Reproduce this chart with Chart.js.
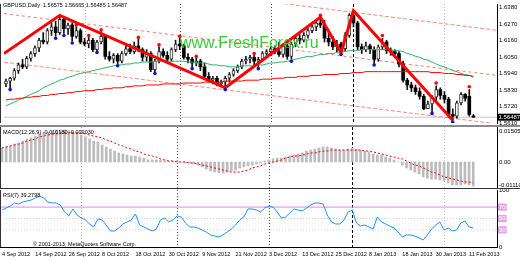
<!DOCTYPE html>
<html><head><meta charset="utf-8">
<script src="https://cdn.jsdelivr.net/npm/chart.js@4/dist/chart.umd.min.js"></script>
<style>
html,body{margin:0;padding:0;background:#fff;width:520px;height:260px;overflow:hidden}
canvas{position:absolute;left:0}
</style></head><body>
<canvas id="main" width="520" height="127" style="top:0px"></canvas>
<canvas id="macd" width="520" height="62" style="top:127px"></canvas>
<canvas id="rsi" width="520" height="71" style="top:189px"></canvas>
<script>
// ---------- data ----------
const opens = [
1.5871,1.5890,1.5909,1.5960,1.5998,1.5985,1.6042,1.6074,1.6112,1.6163,
1.6151,1.6227,1.6252,1.6214,1.6303,1.6240,1.6265,1.6189,1.6227,1.6151,
1.6138,1.6163,1.6100,1.6151,1.6189,1.6055,1.6036,1.6062,1.6023,1.6074,
1.6106,1.6087,1.6125,1.6100,1.6049,1.6074,1.5966,1.6023,1.6087,1.6062,
1.6036,1.6100,1.6138,1.6125,1.6049,1.6036,1.6011,1.6023,1.5985,1.5922,
1.5896,1.5909,1.5871,1.5883,1.5909,1.5934,1.5960,1.5985,1.6023,1.6036,
1.6049,1.6023,1.6036,1.6074,1.6087,1.6106,1.6087,1.6068,1.6125,1.6055,
1.6138,1.6176,1.6163,1.6195,1.6227,1.6252,1.6278,1.6265,1.6176,1.6151,
1.6119,1.6138,1.6106,1.6195,1.6329,1.6278,1.6119,1.6100,1.6125,1.6100,
1.6036,1.6119,1.6151,1.6093,1.6087,1.6074,1.6004,1.5896,1.5864,1.5845,
1.5820,1.5788,1.5705,1.5737,1.5782,1.5833,1.5794,1.5769,1.5667,1.5655,
1.5744,1.5801,1.5788,1.56575];
const highs = [
1.5903,1.5915,1.5973,1.6011,1.6036,1.6055,1.6087,1.6125,1.6176,1.6214,
1.6240,1.6278,1.6290,1.6329,1.6316,1.6278,1.6278,1.6252,1.6240,1.6176,
1.6182,1.6176,1.6163,1.6221,1.6201,1.6087,1.6074,1.6074,1.6087,1.6125,
1.6138,1.6151,1.6170,1.6112,1.6100,1.6087,1.6036,1.6119,1.6106,1.6087,
1.6112,1.6163,1.6176,1.6138,1.6074,1.6049,1.6042,1.6036,1.6011,1.5947,
1.5922,1.5922,1.5896,1.5922,1.5947,1.5973,1.5998,1.6036,1.6055,1.6062,
1.6062,1.6049,1.6087,1.6100,1.6119,1.6125,1.6151,1.6138,1.6138,1.6151,
1.6189,1.6201,1.6214,1.6240,1.6265,1.6290,1.6316,1.6297,1.6214,1.6189,
1.6163,1.6151,1.6214,1.6341,1.6360,1.6290,1.6138,1.6151,1.6138,1.6119,
1.6132,1.6176,1.6163,1.6112,1.6100,1.6087,1.6023,1.5909,1.5883,1.5864,
1.5845,1.5801,1.5756,1.5794,1.5858,1.5845,1.5820,1.5782,1.5705,1.5756,
1.5813,1.5807,1.5833,1.56665];
const lows = [
1.5852,1.5839,1.5896,1.5941,1.5973,1.5973,1.6023,1.6055,1.6087,1.6138,
1.6138,1.6195,1.6189,1.6201,1.6208,1.6201,1.6157,1.6176,1.6138,1.6125,
1.6112,1.6087,1.6087,1.6138,1.6036,1.6023,1.6011,1.6004,1.6011,1.6062,
1.6074,1.6074,1.6087,1.6023,1.6023,1.5953,1.5947,1.6011,1.6049,1.6011,
1.6023,1.6087,1.6100,1.6036,1.6011,1.5985,1.5992,1.5960,1.5909,1.5883,
1.5871,1.5858,1.5858,1.5845,1.5883,1.5922,1.5947,1.5973,1.6004,1.6011,
1.5998,1.5985,1.6023,1.6049,1.6062,1.6074,1.6055,1.6049,1.6036,1.6036,
1.6119,1.6138,1.6151,1.6176,1.6214,1.6227,1.6246,1.6151,1.6125,1.6100,
1.6087,1.6081,1.6093,1.6182,1.6252,1.6100,1.6074,1.6087,1.6074,1.6011,
1.6023,1.6100,1.6074,1.6062,1.6049,1.5985,1.5883,1.5833,1.5820,1.5801,
1.5769,1.5699,1.5705,1.5686,1.5756,1.5769,1.5744,1.5648,1.5629,1.5642,
1.5731,1.5756,1.5655,1.56485];
const closes = [
1.5890,1.5909,1.5960,1.5998,1.5985,1.6042,1.6074,1.6112,1.6163,1.6151,
1.6227,1.6252,1.6214,1.6303,1.6240,1.6265,1.6189,1.6227,1.6151,1.6138,
1.6163,1.6100,1.6151,1.6189,1.6055,1.6036,1.6062,1.6023,1.6074,1.6106,
1.6087,1.6125,1.6100,1.6049,1.6074,1.5966,1.6023,1.6087,1.6062,1.6036,
1.6100,1.6138,1.6125,1.6049,1.6036,1.6011,1.6023,1.5985,1.5922,1.5896,
1.5909,1.5871,1.5883,1.5909,1.5934,1.5960,1.5985,1.6023,1.6036,1.6049,
1.6023,1.6036,1.6074,1.6087,1.6106,1.6087,1.6068,1.6125,1.6055,1.6138,
1.6176,1.6163,1.6195,1.6227,1.6252,1.6278,1.6265,1.6176,1.6151,1.6119,
1.6138,1.6106,1.6195,1.6329,1.6278,1.6119,1.6100,1.6125,1.6100,1.6036,
1.6119,1.6151,1.6093,1.6087,1.6074,1.6004,1.5896,1.5864,1.5845,1.5820,
1.5788,1.5705,1.5737,1.5782,1.5833,1.5794,1.5769,1.5667,1.5655,1.5744,
1.5801,1.5775,1.5667,1.56487];
const greenMA = [
1.5725,1.5737,1.5750,1.5763,1.5775,1.5788,1.5801,1.5813,1.5826,1.5845,
1.5858,1.5871,1.5883,1.5896,1.5903,1.5915,1.5922,1.5934,1.5941,1.5947,
1.5953,1.5960,1.5966,1.5973,1.5979,1.5985,1.5992,1.5998,1.5998,1.6004,
1.6004,1.6011,1.6011,1.6017,1.6017,1.6017,1.6023,1.6023,1.6023,1.6023,
1.6023,1.6023,1.6023,1.6023,1.6017,1.6017,1.6011,1.6011,1.6011,1.6004,
1.5998,1.5998,1.5992,1.5992,1.5985,1.5985,1.5985,1.5992,1.5992,1.5992,
1.5992,1.5998,1.5998,1.6004,1.6011,1.6011,1.6017,1.6017,1.6023,1.6030,
1.6036,1.6042,1.6049,1.6055,1.6055,1.6062,1.6068,1.6068,1.6074,1.6074,
1.6081,1.6087,1.6087,1.6093,1.6093,1.6093,1.6100,1.6100,1.6100,1.6100,
1.6100,1.6100,1.6100,1.6100,1.6093,1.6093,1.6087,1.6074,1.6068,1.6055,
1.6049,1.6036,1.6030,1.6017,1.6004,1.5992,1.5985,1.5973,1.5960,1.5953,
1.5941,1.5934,1.5928,1.5915];
const redMA = [
1.5763,1.5769,1.5769,1.5775,1.5775,1.5782,1.5782,1.5788,1.5788,1.5794,
1.5794,1.5801,1.5801,1.5807,1.5807,1.5813,1.5813,1.5820,1.5820,1.5826,
1.5826,1.5826,1.5833,1.5833,1.5839,1.5839,1.5845,1.5845,1.5845,1.5852,
1.5852,1.5858,1.5858,1.5858,1.5864,1.5864,1.5864,1.5864,1.5871,1.5871,
1.5871,1.5871,1.5871,1.5877,1.5877,1.5877,1.5877,1.5877,1.5883,1.5883,
1.5883,1.5883,1.5883,1.5890,1.5890,1.5890,1.5890,1.5890,1.5896,1.5896,
1.5896,1.5896,1.5903,1.5903,1.5903,1.5909,1.5909,1.5909,1.5915,1.5915,
1.5915,1.5922,1.5922,1.5922,1.5928,1.5928,1.5928,1.5934,1.5934,1.5934,
1.5934,1.5941,1.5941,1.5941,1.5947,1.5947,1.5947,1.5953,1.5953,1.5953,
1.5953,1.5953,1.5953,1.5953,1.5953,1.5953,1.5953,1.5953,1.5953,1.5953,
1.5953,1.5953,1.5953,1.5947,1.5947,1.5947,1.5941,1.5941,1.5941,1.5934,
1.5934,1.5928,1.5928,1.5922];
const zigzagBars   = [-0.5, 13, 53, 76, 81, 84, 108];
const zigzagPrices = [1.6074, 1.6329, 1.5845, 1.6316, 1.6081, 1.6360, 1.5629];
const upFractalBars   = [17,20,23,32,37,42,46,60,76,91,104,112];
const upFractalPrices = [1.6265,1.6195,1.6233,1.6182,1.6132,1.6189,1.6055,1.6074,1.6329,1.6195,1.5877,1.5852];
const dnFractalBars   = [1,12,14,16,22,27,36,45,53,61,69,81,89,103,108];
const dnFractalPrices = [1.5833,1.6176,1.6195,1.6144,1.6081,1.5992,1.5941,1.5973,1.5833,1.5973,1.6023,1.6068,1.5998,1.5674,1.5616];
const channelBars  = [-0.48, 118.7];
const channelUpper = [1.6642, 1.6229];
const channelMid   = [1.6341, 1.5928];
const channelLower = [1.6017, 1.5604];
const macdHist = [
0.0068,0.0073,0.0078,0.0087,0.0092,0.0102,0.0112,0.0117,0.0126,0.0136,
0.0141,0.0146,0.0151,0.0156,0.0156,0.0156,0.0151,0.0146,0.0141,0.0131,
0.0122,0.0112,0.0102,0.0097,0.0083,0.0073,0.0063,0.0053,0.0044,0.0039,
0.0034,0.0029,0.0029,0.0024,0.0019,0.0010,0.0010,0.0010,0.0010,0.0005,
0.0005,0.0005,0.0005,0.0000,-0.0005,-0.0005,-0.0010,-0.0015,-0.0024,-0.0034,
-0.0044,-0.0049,-0.0053,-0.0053,-0.0049,-0.0044,-0.0039,-0.0029,-0.0024,-0.0019,
-0.0015,-0.0010,-0.0005,0.0005,0.0010,0.0015,0.0019,0.0019,0.0024,0.0029,
0.0034,0.0039,0.0044,0.0053,0.0058,0.0063,0.0068,0.0073,0.0073,0.0068,
0.0063,0.0058,0.0058,0.0063,0.0068,0.0063,0.0058,0.0053,0.0049,0.0039,
0.0034,0.0034,0.0024,0.0019,0.0010,0.0000,-0.0015,-0.0029,-0.0039,-0.0049,
-0.0058,-0.0073,-0.0078,-0.0083,-0.0083,-0.0087,-0.0092,-0.0102,-0.0112,-0.0112,
-0.0112,-0.0107,-0.0112,-0.0117];
const macdSignal = [
0.0068,0.0073,0.0078,0.0083,0.0087,0.0092,0.0102,0.0107,0.0112,0.0122,
0.0126,0.0131,0.0136,0.0136,0.0141,0.0141,0.0141,0.0141,0.0141,0.0141,
0.0136,0.0131,0.0126,0.0122,0.0117,0.0107,0.0102,0.0092,0.0083,0.0078,
0.0068,0.0063,0.0053,0.0049,0.0039,0.0034,0.0029,0.0024,0.0015,0.0010,
0.0005,0.0005,0.0000,0.0000,0.0000,-0.0005,-0.0005,-0.0010,-0.0015,-0.0019,
-0.0024,-0.0029,-0.0034,-0.0039,-0.0044,-0.0049,-0.0049,-0.0049,-0.0044,-0.0039,
-0.0029,-0.0024,-0.0019,-0.0010,-0.0005,0.0000,0.0005,0.0010,0.0019,0.0024,
0.0029,0.0029,0.0034,0.0039,0.0044,0.0044,0.0049,0.0053,0.0053,0.0058,
0.0058,0.0058,0.0058,0.0058,0.0058,0.0058,0.0058,0.0053,0.0053,0.0049,
0.0044,0.0039,0.0034,0.0029,0.0024,0.0019,0.0015,0.0005,-0.0005,-0.0015,
-0.0019,-0.0029,-0.0039,-0.0049,-0.0053,-0.0063,-0.0073,-0.0078,-0.0083,-0.0087,
-0.0092,-0.0097,-0.0097,-0.0102];
const rsi = [
64.9,68.4,71.9,77.2,75.4,78.9,80.7,82.5,86.0,89.5,
86.0,78.9,77.2,77.2,73.7,61.4,54.4,66.7,56.1,50.9,
47.4,40.4,35.1,49.1,47.4,38.6,28.1,28.1,33.3,40.4,
43.9,47.4,57.9,38.6,35.1,31.6,28.1,31.6,47.4,50.9,
43.9,47.4,54.4,52.6,42.1,35.1,35.1,33.3,29.8,26.3,
21.1,19.3,17.5,21.1,26.3,31.6,38.6,47.4,52.6,66.7,
66.7,64.9,61.4,68.4,71.9,70.2,61.4,50.9,52.6,59.6,
66.7,64.9,63.2,68.4,73.7,77.2,77.2,75.4,56.1,43.9,
40.4,40.4,47.4,61.4,64.9,42.1,36.8,38.6,35.1,31.6,
52.6,43.9,40.4,36.8,33.3,26.3,17.5,21.1,21.1,19.3,
15.8,12.3,21.1,31.6,38.6,43.9,29.8,33.3,28.1,29.8,
42.1,45.6,35.1,33.3];
const rsiLevels = [70, 50, 30];
const priceTicks = [1.6380,1.6270,1.6160,1.6050,1.5940,1.5830,1.5720,1.5610];
const macdTicks = [0.015053, 0, -0.011102];
const rsiTicks = [100, 70, 50, 30, 0];
const dateBars = [0,8,16,24,32,40,48,56,64,72,80,88,96,104,112];
const dateLabels = ["4 Sep 2012","14 Sep 2012","26 Sep 2012","8 Oct 2012","18 Oct 2012","30 Oct 2012","9 Nov 2012","21 Nov 2012","3 Dec 2012","13 Dec 2012","25 Dec 2012","8 Jan 2013","18 Jan 2013","30 Jan 2013","11 Feb 2013"];
const monthBars = [19, 42, 64, 84, 106];
const titleMain = "GBPUSD,Daily  1.56575 1.56665 1.56485 1.56487";
const titleMacd = "MACD(12,26,9) -0.010180 -0.009030";
const titleRsi = "RSI(7) 39.2798";
const copyright = "\u00A9 2001-2013, MetaQuotes Software Corp.";
const watermark = "www.FreshForex.ru";

// ---------- setup ----------
const FONT = "'Liberation Sans', Arial, sans-serif";
Chart.defaults.font.family = FONT;
const X_MIN = -0.48, X_MAX = 118.7;
const idx = opens.map((_, i) => i);
const lastClose = closes[closes.length - 1];

function xAxis(show) {
  const a = { type:'linear', min:X_MIN, max:X_MAX, offset:false, display:show,
    grid:{display:false, drawTicks:false}, border:{display:true, color:'#000'} };
  if (show) {
    a.afterBuildTicks = s => { s.ticks = dateBars.map(v => ({value:v})); };
    a.afterFit = s => { s.height = 13; s.paddingLeft = 0; s.paddingRight = 0; };
    a.ticks = { autoSkip:false, maxRotation:0, minRotation:0, align:'start', padding:4,
      font:{family:FONT, size:5.5}, color:'#000', callback:(v, i) => dateLabels[i] };
  }
  return a;
}
function yAxis(min, max, tickVals, fmt, tickExtra) {
  return { type:'linear', position:'right', min, max, beginAtZero:false,
    grid:{display:false, drawTicks:false}, border:{display:true, color:'#000'},
    afterBuildTicks: s => { s.ticks = tickVals.map(v => ({value:v})); },
    afterFit: s => { s.width = 23; s.paddingTop = 0; s.paddingBottom = 0; },
    ticks: Object.assign({ autoSkip:false, padding:2, font:{family:FONT, size:6}, color:'#000', callback: fmt }, tickExtra || {}) };
}
function baseOpts(scales, padding) {
  return { responsive:false, animation:false, devicePixelRatio:1, events:[],
    layout:{padding}, plugins:{legend:{display:false}, tooltip:{enabled:false}}, scales };
}
const sepPlugin = { id:'sep', beforeDatasetsDraw(chart) {
  const {ctx, chartArea:a, scales:{x}} = chart;
  const cols = ['#b0b0b0','#505050','#505050','#000000','#c0c0c0'];
  const dash = [[1,2],[1,2],[1,2],[3,2],[1,2]];
  ctx.save(); ctx.lineWidth = 1;
  monthBars.forEach((b, k) => {
    const px = Math.round(x.getPixelForValue(b)) + 0.5;
    ctx.setLineDash(dash[k]);
    ctx.strokeStyle = cols[k]; ctx.beginPath(); ctx.moveTo(px, a.top); ctx.lineTo(px, a.bottom); ctx.stroke();
  });
  ctx.restore();
}};
function leftBorder(chart) {
  const {ctx, chartArea:a} = chart;
  ctx.save(); ctx.fillStyle = '#333'; ctx.fillRect(0, a.top, 1, a.bottom - a.top); ctx.restore();
}
function smallText(ctx, txt, x, y, size) {
  ctx.save(); ctx.font = (size || 5.5) + "px " + FONT; ctx.fillStyle = '#000'; ctx.textBaseline = 'middle';
  ctx.fillText(txt, x, y); ctx.restore();
}

// ---------- main chart ----------
const bull = idx.map(i => closes[i] >= opens[i]);
new Chart(document.getElementById('main'), {
  type:'bar',
  data:{ datasets:[
    { type:'line', data:[{x:X_MIN,y:lastClose},{x:X_MAX,y:lastClose}], borderColor:'#c8c8c8', borderWidth:1, pointRadius:0, order:9 },
    { type:'line', data:channelBars.map((b,k)=>({x:b,y:channelUpper[k]})), borderColor:'rgba(245,120,100,0.85)', borderWidth:1, borderDash:[4,2], pointRadius:0, order:8 },
    { type:'line', data:channelBars.map((b,k)=>({x:b,y:channelMid[k]})), borderColor:'rgba(245,100,80,0.85)', borderWidth:1, borderDash:[3,3], pointRadius:0, order:8 },
    { type:'line', data:channelBars.map((b,k)=>({x:b,y:channelLower[k]})), borderColor:'rgba(245,120,100,0.85)', borderWidth:1, borderDash:[4,2], pointRadius:0, order:8 },
    { type:'bar', data: idx.map(i => ({x:i, y:[lows[i], highs[i]]})), backgroundColor:'#111', barThickness:1, grouped:false, order:7 },
    { type:'bar', data: idx.map(i => ({x:i, y:[opens[i], closes[i]]})), backgroundColor: idx.map(i => bull[i] ? '#fff' : '#000'),
      borderColor:'#333', borderWidth: idx.map(i => bull[i] ? 1 : 0), borderSkipped:false, barThickness:3, grouped:false, minBarLength:1, order:6 },
    { type:'line', data: idx.map(i => ({x:i, y:redMA[i]})), borderColor:'#ff0000', borderWidth:1, pointRadius:0, tension:0, order:5 },
    { type:'line', data: idx.map(i => ({x:i, y:greenMA[i]})), borderColor:'#2db36b', borderWidth:1, pointRadius:0, tension:0, order:5 },
    { type:'line', data: zigzagBars.map((b,k)=>({x:b, y:zigzagPrices[k]})), borderColor:'#ff0000', borderWidth:3, pointRadius:0, tension:0, order:2 },
    { type:'line', data: upFractalBars.map((b,k)=>({x:b, y:upFractalPrices[k]})), showLine:false, pointRadius:1.8, pointBorderWidth:0, pointBackgroundColor:'#ff0000', order:1 },
    { type:'line', data: dnFractalBars.map((b,k)=>({x:b, y:dnFractalPrices[k]})), showLine:false, pointRadius:1.8, pointBorderWidth:0, pointBackgroundColor:'#1010d0', order:1 }
  ]},
  options: baseOpts({ x:xAxis(false), y:yAxis(1.5610, 1.6405, priceTicks, v => v.toFixed(4)) }, {top:0,right:0,bottom:2,left:0}),
  plugins:[sepPlugin, {
    id:'mainDeco',
    afterDatasetsDraw(chart) {
      const ctx = chart.ctx;
      ctx.save(); ctx.font = "16px " + FONT; ctx.fillStyle = 'rgba(40,200,40,0.92)'; ctx.textBaseline = 'alphabetic';
      ctx.fillText(watermark, 180, 48); ctx.restore();
    },
    afterDraw(chart) {
      const {ctx, scales:{y}} = chart;
      smallText(ctx, titleMain, 3, 5);
      const py = y.getPixelForValue(lastClose);
      ctx.save(); ctx.fillStyle = '#000'; ctx.fillRect(497, py - 3.5, 23, 7);
      ctx.fillStyle = '#fff'; ctx.font = "6px " + FONT; ctx.textBaseline = 'middle'; ctx.fillText(lastClose.toFixed(5), 498.5, py + 0.5);
      ctx.fillStyle = '#8a8a8a'; ctx.fillRect(0, 125, 520, 2); ctx.restore();
      leftBorder(chart);
    }
  }]
});

// ---------- MACD chart ----------
new Chart(document.getElementById('macd'), {
  type:'bar',
  data:{ datasets:[
    { type:'bar', data: idx.map(i => ({x:i, y:macdHist[i]})), backgroundColor:'#bcbcbc', barThickness:2, grouped:false, order:2 },
    { type:'line', data: idx.map(i => ({x:i, y:macdSignal[i]})), borderColor:'#ff0000', borderWidth:1, borderDash:[2,2], pointRadius:0, tension:0, order:1 }
  ]},
  options: baseOpts({ x:xAxis(false), y:yAxis(-0.01263, 0.0170, macdTicks, v => v === 0 ? '0.00' : v.toFixed(6)) }, {top:0,right:0,bottom:1,left:0}),
  plugins:[sepPlugin, { id:'macdDeco', afterDraw(chart) {
    const ctx = chart.ctx;
    smallText(ctx, titleMacd, 3, 5);
    ctx.save(); ctx.fillStyle = '#333'; ctx.fillRect(0, 61, 520, 1); ctx.restore();
    leftBorder(chart);
  }}]
});

// ---------- RSI chart ----------
const isLvl = c => c.tick && rsiLevels.includes(c.tick.value);
new Chart(document.getElementById('rsi'), {
  type:'line',
  data:{ datasets:[
    { data:[{x:X_MIN,y:rsiLevels[0]},{x:X_MAX,y:rsiLevels[0]}], borderColor:'#ee82ee', borderWidth:1, pointRadius:0, order:3 },
    { data:[{x:X_MIN,y:rsiLevels[1]},{x:X_MAX,y:rsiLevels[1]}], borderColor:'#cfcfe6', borderWidth:1, borderDash:[1,2], pointRadius:0, order:3 },
    { data:[{x:X_MIN,y:rsiLevels[2]},{x:X_MAX,y:rsiLevels[2]}], borderColor:'#cfcfe6', borderWidth:1, borderDash:[1,2], pointRadius:0, order:3 },
    { data: idx.map(i => ({x:i, y:rsi[i]})), borderColor:'#1e90ff', borderWidth:1, pointRadius:0, tension:0, order:1 }
  ]},
  options: baseOpts({ x:xAxis(true), y:yAxis(0, 100, rsiTicks, v => String(v), {
      showLabelBackdrop: c => isLvl(c), backdropColor:'#e6a0e6', backdropPadding:{top:0,bottom:0,left:1,right:1},
      color: c => isLvl(c) ? '#ffffff' : '#000000' }) }, {top:1,right:0,bottom:0,left:0}),
  plugins:[sepPlugin, { id:'rsiDeco', afterDraw(chart) {
    const ctx = chart.ctx;
    smallText(ctx, titleRsi, 3, 6);
    smallText(ctx, copyright, 33, 55);
    leftBorder(chart);
  }}]
});
</script>
</body></html>
